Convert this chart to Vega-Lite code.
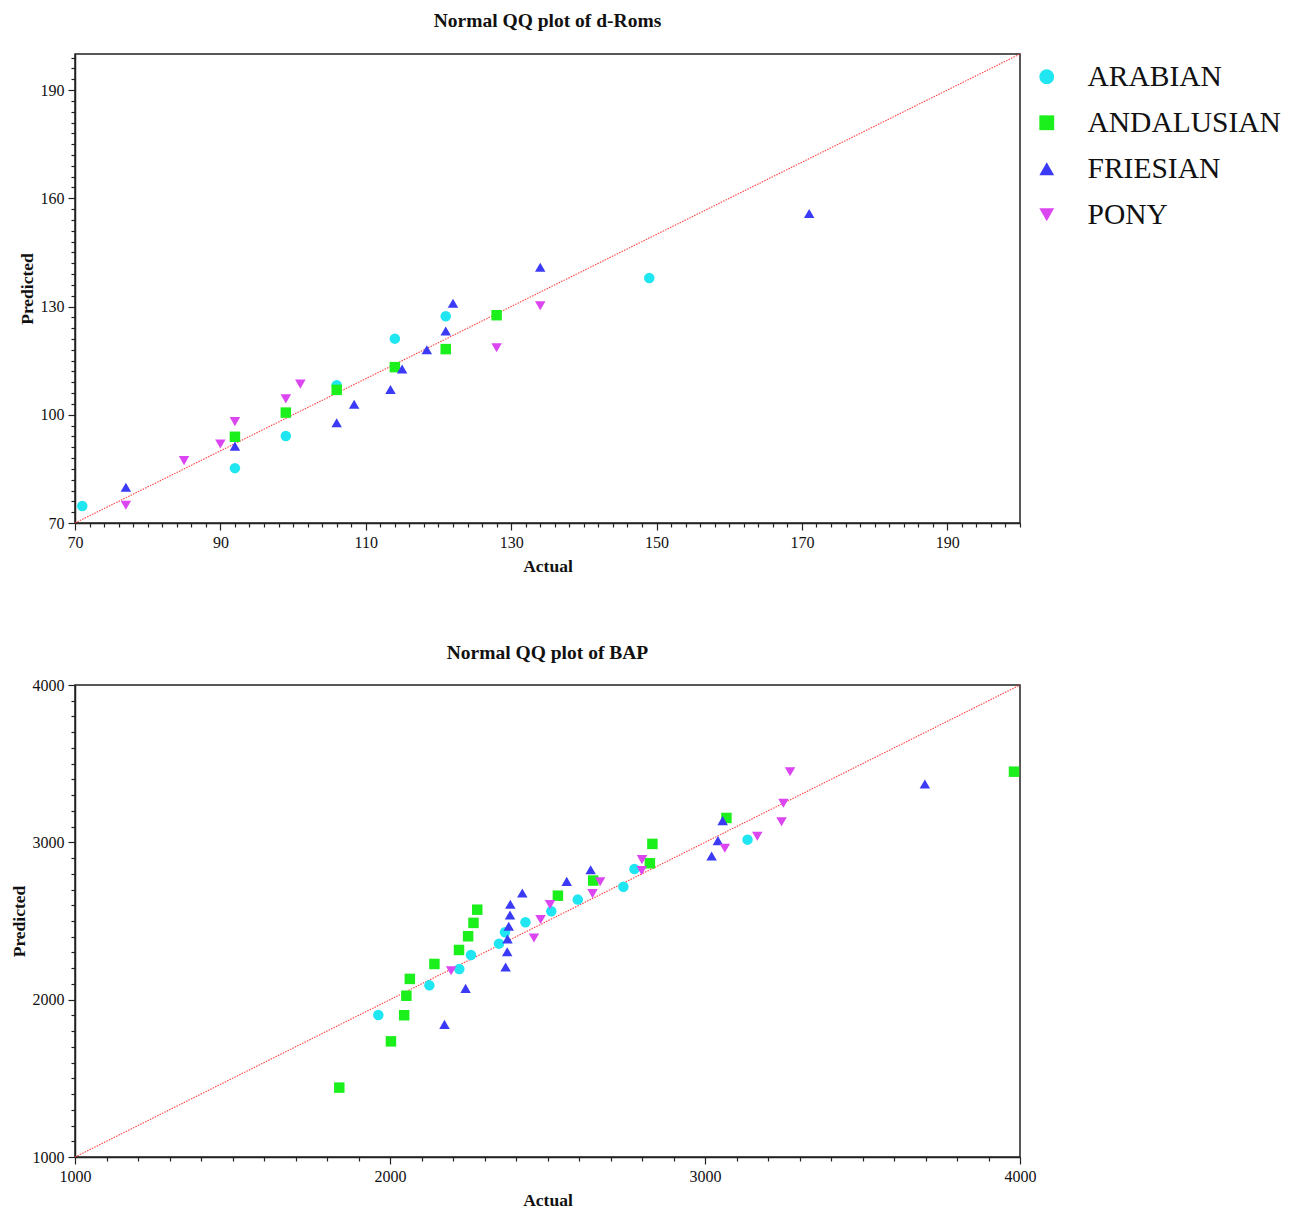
{
  "$schema": "https://vega.github.io/schema/vega-lite/v6.json",
  "background": "white",
  "padding": {"top": 10, "left": 9, "right": 5, "bottom": 0},
  "spacing": 65,
  "config": {
    "view": {"stroke": "#222", "strokeWidth": 1.5},
    "axis": {
      "domainColor": "#222", "domainWidth": 1.5, "tickColor": "#222", "tickWidth": 1.2,
      "labelFont": "Liberation Serif", "labelFontSize": 16, "labelColor": "#111",
      "titleFont": "Liberation Serif", "titleFontSize": 17.5, "titleFontWeight": "bold", "titleColor": "#111",
      "grid": false, "labelFlush": false, "labelOverlap": false, "labelPadding": 4, "titlePadding": 7
    },
    "axisY": {"titlePadding": 4},
    "title": {"font": "Liberation Serif", "fontSize": 19.5, "fontWeight": "bold", "color": "#111", "offset": 18},
    "legend": {
      "labelFont": "Liberation Serif", "labelFontSize": 29.5, "labelColor": "#111", "labelLimit": 0,
      "symbolSize": 220, "rowPadding": 15, "labelOffset": 26, "offset": -13, "padding": 8, "symbolStrokeWidth": 0
    }
  },
  "datasets": {
    "droms": [
      {"breed": "ARABIAN", "actual": 71, "predicted": 74.7},
      {"breed": "ARABIAN", "actual": 92, "predicted": 85.2},
      {"breed": "ARABIAN", "actual": 99, "predicted": 94.1},
      {"breed": "ARABIAN", "actual": 106, "predicted": 108.2},
      {"breed": "ARABIAN", "actual": 114, "predicted": 121.1},
      {"breed": "ARABIAN", "actual": 121, "predicted": 127.3},
      {"breed": "ARABIAN", "actual": 149, "predicted": 137.9},
      {"breed": "ANDALUSIAN", "actual": 92, "predicted": 93.9},
      {"breed": "ANDALUSIAN", "actual": 99, "predicted": 100.6},
      {"breed": "ANDALUSIAN", "actual": 106, "predicted": 106.9},
      {"breed": "ANDALUSIAN", "actual": 114, "predicted": 113.2},
      {"breed": "ANDALUSIAN", "actual": 121, "predicted": 118.2},
      {"breed": "ANDALUSIAN", "actual": 128, "predicted": 127.6},
      {"breed": "FRIESIAN", "actual": 77, "predicted": 79.9},
      {"breed": "FRIESIAN", "actual": 92, "predicted": 91.3},
      {"breed": "FRIESIAN", "actual": 106, "predicted": 97.8},
      {"breed": "FRIESIAN", "actual": 108.4, "predicted": 102.9},
      {"breed": "FRIESIAN", "actual": 113.4, "predicted": 107},
      {"breed": "FRIESIAN", "actual": 115, "predicted": 112.7},
      {"breed": "FRIESIAN", "actual": 118.4, "predicted": 118},
      {"breed": "FRIESIAN", "actual": 121, "predicted": 123.2},
      {"breed": "FRIESIAN", "actual": 122, "predicted": 130.9},
      {"breed": "FRIESIAN", "actual": 134, "predicted": 140.9},
      {"breed": "FRIESIAN", "actual": 171, "predicted": 155.8},
      {"breed": "PONY", "actual": 77, "predicted": 74.9},
      {"breed": "PONY", "actual": 85, "predicted": 87.3},
      {"breed": "PONY", "actual": 90, "predicted": 91.9},
      {"breed": "PONY", "actual": 92, "predicted": 98.1},
      {"breed": "PONY", "actual": 99, "predicted": 104.4},
      {"breed": "PONY", "actual": 101, "predicted": 108.5},
      {"breed": "PONY", "actual": 128, "predicted": 118.6},
      {"breed": "PONY", "actual": 134, "predicted": 130.2}
    ],
    "bap": [
      {"breed": "ARABIAN", "actual": 1963, "predicted": 1903},
      {"breed": "ARABIAN", "actual": 2125, "predicted": 2091},
      {"breed": "ARABIAN", "actual": 2220, "predicted": 2195},
      {"breed": "ARABIAN", "actual": 2257, "predicted": 2284},
      {"breed": "ARABIAN", "actual": 2346, "predicted": 2356},
      {"breed": "ARABIAN", "actual": 2365, "predicted": 2428},
      {"breed": "ARABIAN", "actual": 2430, "predicted": 2492},
      {"breed": "ARABIAN", "actual": 2512, "predicted": 2562},
      {"breed": "ARABIAN", "actual": 2596, "predicted": 2636},
      {"breed": "ARABIAN", "actual": 2741, "predicted": 2718},
      {"breed": "ARABIAN", "actual": 2776, "predicted": 2831},
      {"breed": "ARABIAN", "actual": 3135, "predicted": 3017},
      {"breed": "ANDALUSIAN", "actual": 1839, "predicted": 1441},
      {"breed": "ANDALUSIAN", "actual": 2003, "predicted": 1735},
      {"breed": "ANDALUSIAN", "actual": 2045, "predicted": 1901},
      {"breed": "ANDALUSIAN", "actual": 2052, "predicted": 2025},
      {"breed": "ANDALUSIAN", "actual": 2063, "predicted": 2132},
      {"breed": "ANDALUSIAN", "actual": 2141, "predicted": 2227},
      {"breed": "ANDALUSIAN", "actual": 2219, "predicted": 2316},
      {"breed": "ANDALUSIAN", "actual": 2248, "predicted": 2403},
      {"breed": "ANDALUSIAN", "actual": 2265, "predicted": 2488},
      {"breed": "ANDALUSIAN", "actual": 2277, "predicted": 2572},
      {"breed": "ANDALUSIAN", "actual": 2533, "predicted": 2661},
      {"breed": "ANDALUSIAN", "actual": 2645, "predicted": 2757},
      {"breed": "ANDALUSIAN", "actual": 2825, "predicted": 2867},
      {"breed": "ANDALUSIAN", "actual": 2833, "predicted": 2990},
      {"breed": "ANDALUSIAN", "actual": 3068, "predicted": 3155},
      {"breed": "ANDALUSIAN", "actual": 3981, "predicted": 3449},
      {"breed": "FRIESIAN", "actual": 2173, "predicted": 1843},
      {"breed": "FRIESIAN", "actual": 2240, "predicted": 2072},
      {"breed": "FRIESIAN", "actual": 2367, "predicted": 2208},
      {"breed": "FRIESIAN", "actual": 2372, "predicted": 2305},
      {"breed": "FRIESIAN", "actual": 2373, "predicted": 2386},
      {"breed": "FRIESIAN", "actual": 2377, "predicted": 2467},
      {"breed": "FRIESIAN", "actual": 2381, "predicted": 2538},
      {"breed": "FRIESIAN", "actual": 2382, "predicted": 2606},
      {"breed": "FRIESIAN", "actual": 2420, "predicted": 2678},
      {"breed": "FRIESIAN", "actual": 2561, "predicted": 2752},
      {"breed": "FRIESIAN", "actual": 2637, "predicted": 2826},
      {"breed": "FRIESIAN", "actual": 3021, "predicted": 2913},
      {"breed": "FRIESIAN", "actual": 3041, "predicted": 3011},
      {"breed": "FRIESIAN", "actual": 3056, "predicted": 3138},
      {"breed": "FRIESIAN", "actual": 3698, "predicted": 3371},
      {"breed": "PONY", "actual": 2194, "predicted": 2184},
      {"breed": "PONY", "actual": 2457, "predicted": 2392},
      {"breed": "PONY", "actual": 2478, "predicted": 2509},
      {"breed": "PONY", "actual": 2508, "predicted": 2604},
      {"breed": "PONY", "actual": 2643, "predicted": 2674},
      {"breed": "PONY", "actual": 2667, "predicted": 2750},
      {"breed": "PONY", "actual": 2799, "predicted": 2820},
      {"breed": "PONY", "actual": 2800, "predicted": 2890},
      {"breed": "PONY", "actual": 3063, "predicted": 2962},
      {"breed": "PONY", "actual": 3166, "predicted": 3039},
      {"breed": "PONY", "actual": 3243, "predicted": 3131},
      {"breed": "PONY", "actual": 3249, "predicted": 3248},
      {"breed": "PONY", "actual": 3270, "predicted": 3449}
    ]
  },
  "vconcat": [
    {
      "title": {"text": "Normal QQ plot of d-Roms", "offset": 18},
      "width": 945,
      "height": 469,
      "layer": [
        {
          "data": {"values": [{"actual": 70, "predicted": 70, "actual2": 200, "predicted2": 200}]},
          "mark": {"type": "rule", "color": "#ff2a2a", "strokeWidth": 1.1, "strokeDash": [1.5, 1.2], "opacity": 0.9},
          "encoding": {
            "x": {"field": "actual", "type": "quantitative"},
            "x2": {"field": "actual2"},
            "y": {"field": "predicted", "type": "quantitative"},
            "y2": {"field": "predicted2"}
          }
        },
        {
          "data": {"name": "droms"},
          "mark": {"type": "point", "filled": true, "opacity": 1, "size": 110},
          "encoding": {
            "x": {"field": "actual", "type": "quantitative"},
            "y": {"field": "predicted", "type": "quantitative"},
            "color": {"field": "breed", "type": "nominal", "title": null,
              "scale": {"domain": ["ARABIAN", "ANDALUSIAN", "FRIESIAN", "PONY"], "range": ["#1fe6f0", "#1cf01c", "#3b3bf7", "#dc46f0"]}},
            "shape": {"field": "breed", "type": "nominal", "title": null,
              "scale": {"domain": ["ARABIAN", "ANDALUSIAN", "FRIESIAN", "PONY"], "range": ["circle", "square", "triangle-up", "triangle-down"]}}
          }
        }
      ],
      "encoding": {
        "x": {"scale": {"domain": [70, 200], "nice": false, "zero": false},
          "axis": {"title": "Actual", "format": "d",
            "values": [70,72,74,76,78,80,82,84,86,88,90,92,94,96,98,100,102,104,106,108,110,112,114,116,118,120,122,124,126,128,130,132,134,136,138,140,142,144,146,148,150,152,154,156,158,160,162,164,166,168,170,172,174,176,178,180,182,184,186,188,190,192,194,196,198,200],
            "labelExpr": "(datum.value - 70) % 20 === 0 ? datum.label : ''",
            "tickSize": {"condition": {"test": "(datum.value - 70) % 20 === 0", "value": 7}, "value": 4}}},
        "y": {"scale": {"domain": [70, 200], "nice": false, "zero": false},
          "axis": {"title": "Predicted", "format": "d",
            "values": [70,73,76,79,82,85,88,91,94,97,100,103,106,109,112,115,118,121,124,127,130,133,136,139,142,145,148,151,154,157,160,163,166,169,172,175,178,181,184,187,190,193,196,199],
            "labelExpr": "(datum.value - 70) % 30 === 0 ? datum.label : ''",
            "tickSize": {"condition": {"test": "(datum.value - 70) % 30 === 0", "value": 7}, "value": 4}}}
      }
    },
    {
      "title": {"text": "Normal QQ plot of BAP", "offset": 14},
      "width": 945,
      "height": 472,
      "layer": [
        {
          "data": {"values": [{"actual": 1000, "predicted": 1000, "actual2": 4000, "predicted2": 4000}]},
          "mark": {"type": "rule", "color": "#ff2a2a", "strokeWidth": 1.1, "strokeDash": [1.5, 1.2], "opacity": 0.9},
          "encoding": {
            "x": {"field": "actual", "type": "quantitative"},
            "x2": {"field": "actual2"},
            "y": {"field": "predicted", "type": "quantitative"},
            "y2": {"field": "predicted2"}
          }
        },
        {
          "data": {"name": "bap"},
          "mark": {"type": "point", "filled": true, "opacity": 1, "size": 110},
          "encoding": {
            "x": {"field": "actual", "type": "quantitative"},
            "y": {"field": "predicted", "type": "quantitative"},
            "color": {"field": "breed", "type": "nominal", "title": null,
              "scale": {"domain": ["ARABIAN", "ANDALUSIAN", "FRIESIAN", "PONY"], "range": ["#1fe6f0", "#1cf01c", "#3b3bf7", "#dc46f0"]}},
            "shape": {"field": "breed", "type": "nominal", "title": null,
              "scale": {"domain": ["ARABIAN", "ANDALUSIAN", "FRIESIAN", "PONY"], "range": ["circle", "square", "triangle-up", "triangle-down"]}}
          }
        }
      ],
      "encoding": {
        "x": {"scale": {"domain": [1000, 4000], "nice": false, "zero": false},
          "axis": {"title": "Actual", "format": "d",
            "values": [1000,1100,1200,1300,1400,1500,1600,1700,1800,1900,2000,2100,2200,2300,2400,2500,2600,2700,2800,2900,3000,3100,3200,3300,3400,3500,3600,3700,3800,3900,4000],
            "labelExpr": "datum.value % 1000 === 0 ? datum.label : ''",
            "tickSize": {"condition": {"test": "datum.value % 1000 === 0", "value": 7}, "value": 4}}},
        "y": {"scale": {"domain": [1000, 4000], "nice": false, "zero": false},
          "axis": {"title": "Predicted", "format": "d",
            "values": [1000,1100,1200,1300,1400,1500,1600,1700,1800,1900,2000,2100,2200,2300,2400,2500,2600,2700,2800,2900,3000,3100,3200,3300,3400,3500,3600,3700,3800,3900,4000],
            "labelExpr": "datum.value % 1000 === 0 ? datum.label : ''",
            "tickSize": {"condition": {"test": "datum.value % 1000 === 0", "value": 7}, "value": 4}}}
      }
    }
  ]
}
